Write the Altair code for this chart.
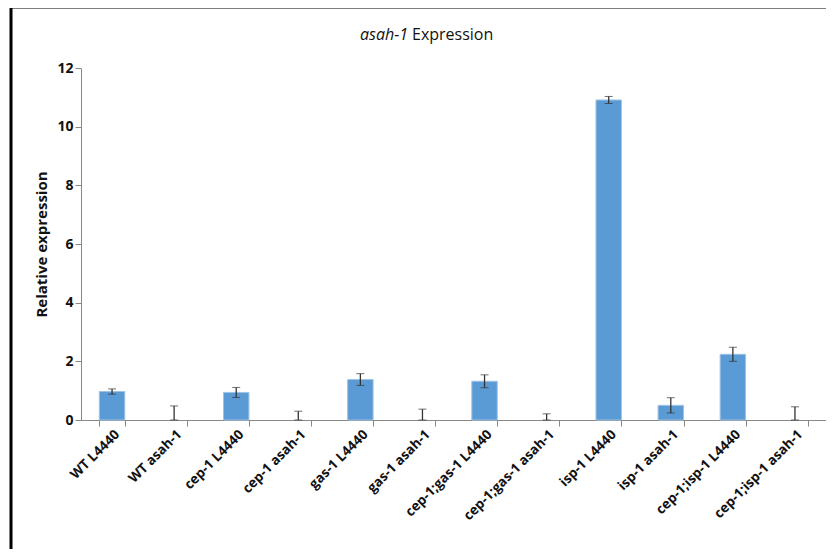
import altair as alt
import pandas as pd

categories = ["WT L4440", "WT asah-1", "cep-1 L4440", "cep-1 asah-1",
              "gas-1 L4440", "gas-1 asah-1", "cep-1;gas-1 L4440", "cep-1;gas-1 asah-1",
              "isp-1 L4440", "isp-1 asah-1", "cep-1;isp-1 L4440", "cep-1;isp-1 asah-1"]
values = [0.97, 0.0, 0.94, 0.0, 1.38, 0.0, 1.32, 0.0, 10.91, 0.50, 2.24, 0.0]
errors = [0.09, 0.48, 0.17, 0.30, 0.20, 0.37, 0.22, 0.21, 0.12, 0.26, 0.24, 0.45]

df = pd.DataFrame({
    "cat": categories,
    "val": values,
    "lo": [max(0.0, v - e) for v, e in zip(values, errors)],
    "hi": [v + e for v, e in zip(values, errors)],
})

FONT = "Open Sans"
YTITLE = "Relative expression"

x = alt.X("cat:N", sort=categories, title=None,
          scale=alt.Scale(paddingInner=0.59, paddingOuter=0.295),
          axis=alt.Axis(labelAngle=-45, labelFont=FONT, labelFontSize=13.5,
                        labelFontWeight="bold", labelColor="#111", labelPadding=1,
                        tickBand="extent", tickColor="#888", tickSize=6,
                        domainColor="#888", labelLimit=200))
y_axis = alt.Axis(values=[0, 2, 4, 6, 8, 10, 12], grid=False,
                  labelFont=FONT, labelFontSize=14, labelFontWeight="bold",
                  labelColor="#111", tickColor="#888", tickSize=6,
                  domainColor="#888", titleFont=FONT, titleFontSize=15,
                  titleFontWeight="bold", titleColor="#111",
                  titleX=-40, titleY=176, titleAngle=-90,
                  titleAlign="center", titleBaseline="middle")
yscale = alt.Scale(domain=[0, 12], nice=False)

base = alt.Chart(df)

bars = base.mark_bar(color="#5B9BD5", stroke="#9DC3E6", strokeWidth=1).encode(
    x=x, y=alt.Y("val:Q", title=YTITLE, scale=yscale, axis=y_axis)
).transform_filter("datum.val > 0")

err = base.mark_errorbar(ticks=alt.MarkConfig(size=8, color="#333", strokeWidth=1.3),
                         rule=alt.MarkConfig(color="#333", strokeWidth=1.3)).encode(
    x=alt.X("cat:N", sort=categories),
    y=alt.Y("lo:Q", title=YTITLE, scale=yscale),
    y2="hi:Q",
)

title_it = alt.Chart(alt.Data(values=[{"t": "asah-1"}])).mark_text(
    font=FONT, fontSize=16, fontStyle="italic", align="right",
    baseline="alphabetic", color="#111").encode(
    x=alt.value(327), y=alt.value(-28), text="t:N")
title_rest = alt.Chart(alt.Data(values=[{"t": "Expression"}])).mark_text(
    font=FONT, fontSize=16, align="left", baseline="alphabetic", color="#111").encode(
    x=alt.value(331), y=alt.value(-28), text="t:N")

border = alt.Chart(alt.Data(values=[{"b": 1}])).mark_rect(
    fill=None, stroke="black", strokeWidth=3).encode(
    x=alt.value(-70), x2=alt.value(800), y=alt.value(-61), y2=alt.value(600))

chart = alt.layer(border, bars, err, title_it, title_rest).properties(
    width=745, height=352,
    autosize=alt.AutoSizeParams(type="none"),
    padding={"left": 73, "top": 60, "right": 0, "bottom": 129},
).configure_view(stroke=None)

chart.save("out.html", embed_options={"renderer": "svg", "actions": False})
